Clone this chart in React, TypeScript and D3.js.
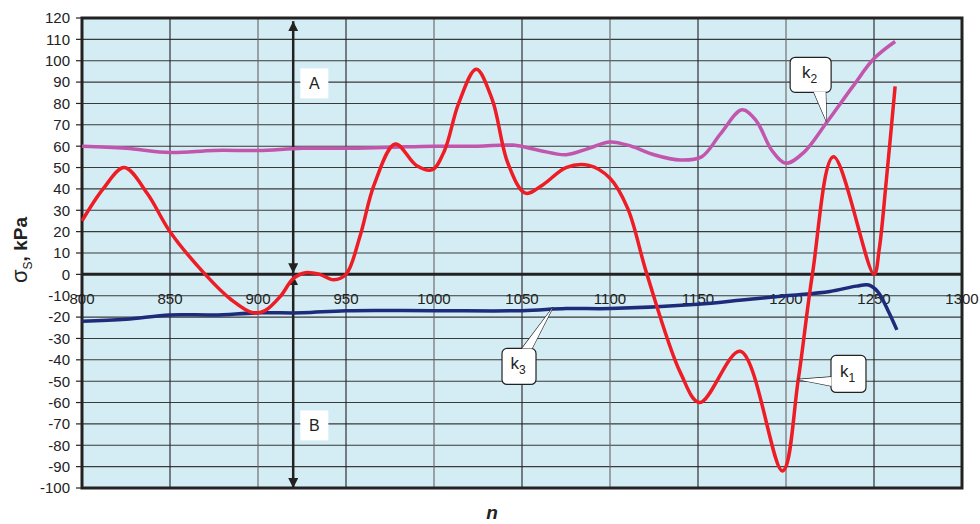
import { useRef, useEffect } from 'react';
import * as d3 from 'd3';

// n vs stress
const k1 = [
  [800, 25], [812, 40], [824, 50], [837, 38], [850, 20], [870, 0], [885, -12], [897, -18],
  [904, -17], [913, -10], [920, -2], [927, 0.8], [935, 0], [943, -2.5], [950, 0],
  [958, 18], [966, 42], [978, 61], [990, 51], [999, 49], [1006, 58], [1014, 80], [1024, 96],
  [1033, 82], [1042, 52], [1052, 38], [1062, 42], [1075, 50], [1088, 51], [1100, 45],
  [1110, 31], [1121, 0], [1140, -46], [1151, -60], [1174, -36],
  [1198, -92], [1207, -49], [1215, 0], [1227, 55], [1250, 0], [1253, 12],
  [1257, 44], [1262, 88],
];
const k2 = [
  [800, 60], [825, 59], [850, 57], [875, 58], [900, 58], [925, 59], [950, 59], [975, 59.5],
  [1000, 60], [1025, 60], [1045, 60.5], [1060, 58], [1075, 56], [1088, 59], [1100, 62],
  [1112, 60], [1125, 56], [1140, 53.5], [1152, 55], [1163, 66], [1175, 77], [1183, 72],
  [1192, 58], [1200, 52], [1210, 57], [1223, 71], [1238, 88], [1250, 101], [1262, 109],
];
const k3 = [
  [800, -22], [825, -21], [850, -19], [875, -19], [900, -18], [925, -18], [950, -17],
  [1000, -17], [1050, -17], [1075, -16], [1100, -16], [1150, -14], [1175, -12], [1200, -10],
  [1225, -8], [1240, -5.5], [1247, -5], [1252, -8], [1258, -17], [1263, -26],
];

const xTicks = [800, 850, 900, 950, 1000, 1050, 1100, 1150, 1200, 1250, 1300];
const yTicks = d3.range(-100, 121, 10);

// callouts: label, subscript, box centre [n, value], pointer tip [n, value]
const callouts = [
  { name: 'k', sub: '2', box: [1214, 93.4], tip: [1223, 71.6], w: 41, h: 35, base: [[3, 17], [15, 17]] },
  { name: 'k', sub: '1', box: [1235.5, -46.6], tip: [1206.8, -49.2], w: 35, h: 37, base: [[-17, 3], [-17, 12]] },
  { name: 'k', sub: '3', box: [1048.3, -43.1], tip: [1067.6, -15.4], w: 34, h: 36, base: [[3, -18], [13, -18]] },
];
const arrowN = 920;
const letters = [{ t: 'A', at: [932, 89.4] }, { t: 'B', at: [932, -70.7] }];

const App = () => {
  const svgRef = useRef(null);

  useEffect(() => {
    const svg = d3.select(svgRef.current);
    svg.selectAll('*').remove();
    const left = 82, right = 962, top = 18, bottom = 488;
    const x = d3.scaleLinear().domain([800, 1300]).range([left, right]);
    const y = d3.scaleLinear().domain([-100, 120]).range([bottom, top]);
    const font = 'Liberation Sans, Arial, sans-serif';

    const defs = svg.append('defs');
    defs.append('marker')
      .attr('id', 'arr').attr('viewBox', '0 0 10 10').attr('refX', 10).attr('refY', 5)
      .attr('markerWidth', 4).attr('markerHeight', 4).attr('orient', 'auto-start-reverse')
      .append('path').attr('d', 'M0,0L10,5L0,10z').attr('fill', '#222');

    svg.append('rect')
      .attr('x', left).attr('y', top).attr('width', right - left).attr('height', bottom - top)
      .attr('fill', '#d4ecf3');

    svg.append('g').selectAll('line').data(yTicks).join('line')
      .attr('x1', left).attr('x2', right)
      .attr('y1', d => y(d)).attr('y2', d => y(d))
      .attr('stroke', '#3a3a3a').attr('stroke-width', 1.1);
    svg.append('g').selectAll('line').data(xTicks.slice(1, -1)).join('line')
      .attr('x1', d => x(d)).attr('x2', d => x(d))
      .attr('y1', top).attr('y2', bottom)
      .attr('stroke', (d, i) => (i % 2 ? '#666' : '#222')).attr('stroke-width', 1.1);

    // zero line
    svg.append('line')
      .attr('x1', left).attr('x2', right).attr('y1', y(0)).attr('y2', y(0))
      .attr('stroke', '#222').attr('stroke-width', 3);

    // frame
    svg.append('rect')
      .attr('x', left).attr('y', top).attr('width', right - left).attr('height', bottom - top)
      .attr('fill', 'none').attr('stroke', '#222').attr('stroke-width', 3);

    // y ticks and labels
    const ya = svg.append('g');
    ya.selectAll('line').data(yTicks).join('line')
      .attr('x1', left - 6).attr('x2', left).attr('y1', d => y(d)).attr('y2', d => y(d))
      .attr('stroke', '#222').attr('stroke-width', 1.2);
    ya.selectAll('text').data(yTicks).join('text')
      .attr('x', left - 12).attr('y', d => y(d)).attr('dy', '0.36em')
      .attr('text-anchor', 'end').attr('font-family', font).attr('font-size', 15)
      .attr('fill', '#222').text(d => d);

    // x labels sit under zero line
    svg.append('g').selectAll('text').data(xTicks).join('text')
      .attr('x', d => x(d)).attr('y', y(0) + 30)
      .attr('text-anchor', 'middle').attr('font-family', font).attr('font-size', 15)
      .attr('fill', '#222').text(d => d);

    // A / B arrows
    const ag = svg.append('g');
    [[118.5, 0.5], [-0.5, -100]].forEach(([a, b]) => {
      ag.append('line')
        .attr('x1', x(arrowN)).attr('x2', x(arrowN)).attr('y1', y(a)).attr('y2', y(b))
        .attr('stroke', '#222').attr('stroke-width', 2.5)
        .attr('marker-start', 'url(#arr)').attr('marker-end', 'url(#arr)');
    });
    letters.forEach(l => {
      const cx = x(l.at[0]), cy = y(l.at[1]);
      ag.append('rect').attr('x', cx - 14).attr('y', cy - 15).attr('width', 28).attr('height', 30)
        .attr('fill', '#fff');
      ag.append('text').attr('x', cx).attr('y', cy).attr('dy', '0.36em')
        .attr('text-anchor', 'middle').attr('font-family', font).attr('font-size', 16)
        .attr('fill', '#222').text(l.t);
    });

    const line = d3.line().x(d => x(d[0])).y(d => y(d[1])).curve(d3.curveCatmullRom.alpha(0.5));
    [[k3, '#1e2a7a'], [k2, '#c256ad'], [k1, '#ee1c25']].forEach(([data, c]) => {
      svg.append('path').attr('d', line(data)).attr('fill', 'none')
        .attr('stroke', c).attr('stroke-width', 3.5).attr('stroke-linejoin', 'round');
    });

    // callouts
    callouts.forEach(c => {
      const cx = x(c.box[0]), cy = y(c.box[1]);
      const tri = [[cx + c.base[0][0], cy + c.base[0][1]], [x(c.tip[0]), y(c.tip[1])], [cx + c.base[1][0], cy + c.base[1][1]]];
      const g = svg.append('g');
      g.append('polygon').attr('points', tri.map(p => p.join(',')).join(' '))
        .attr('fill', '#fff').attr('stroke', '#222').attr('stroke-width', 1.2);
      g.append('rect')
        .attr('x', cx - c.w / 2).attr('y', cy - c.h / 2).attr('width', c.w).attr('height', c.h)
        .attr('rx', 5).attr('fill', '#fff').attr('stroke', '#222').attr('stroke-width', 1.2);
      g.append('polygon').attr('points', tri.map(p => p.join(',')).join(' '))
        .attr('fill', '#fff').attr('stroke', 'none');
      const t = g.append('text').attr('x', cx - 1).attr('y', cy + 3)
        .attr('text-anchor', 'middle').attr('font-family', font).attr('font-size', 17).attr('fill', '#222');
      t.append('tspan').text(c.name);
      t.append('tspan').attr('font-size', 12).attr('dy', 5).text(c.sub);
    });

    // axis titles
    const yt = svg.append('text')
      .attr('transform', 'translate(27,250) rotate(-90)')
      .attr('text-anchor', 'middle').attr('font-family', font).attr('font-size', 19)
      .attr('font-weight', 'bold').attr('fill', '#222');
    yt.append('tspan').attr('font-weight', 'normal').attr('font-size', 22).text('σ');
    yt.append('tspan').attr('font-size', 12).attr('font-weight', 'normal').attr('dy', 5).text('S');
    yt.append('tspan').attr('dy', -5).text(', kPa');

    svg.append('text').attr('x', 492).attr('y', 519).attr('text-anchor', 'middle')
      .attr('font-family', font).attr('font-size', 19).attr('font-weight', 'bold')
      .attr('font-style', 'italic').attr('fill', '#222').text('n');
  }, []);

  return (
    <svg ref={svgRef} width="980" height="524"
      style={{ position: 'absolute', left: 0, top: 0, background: '#fff' }} />
  );
};

export default App;
